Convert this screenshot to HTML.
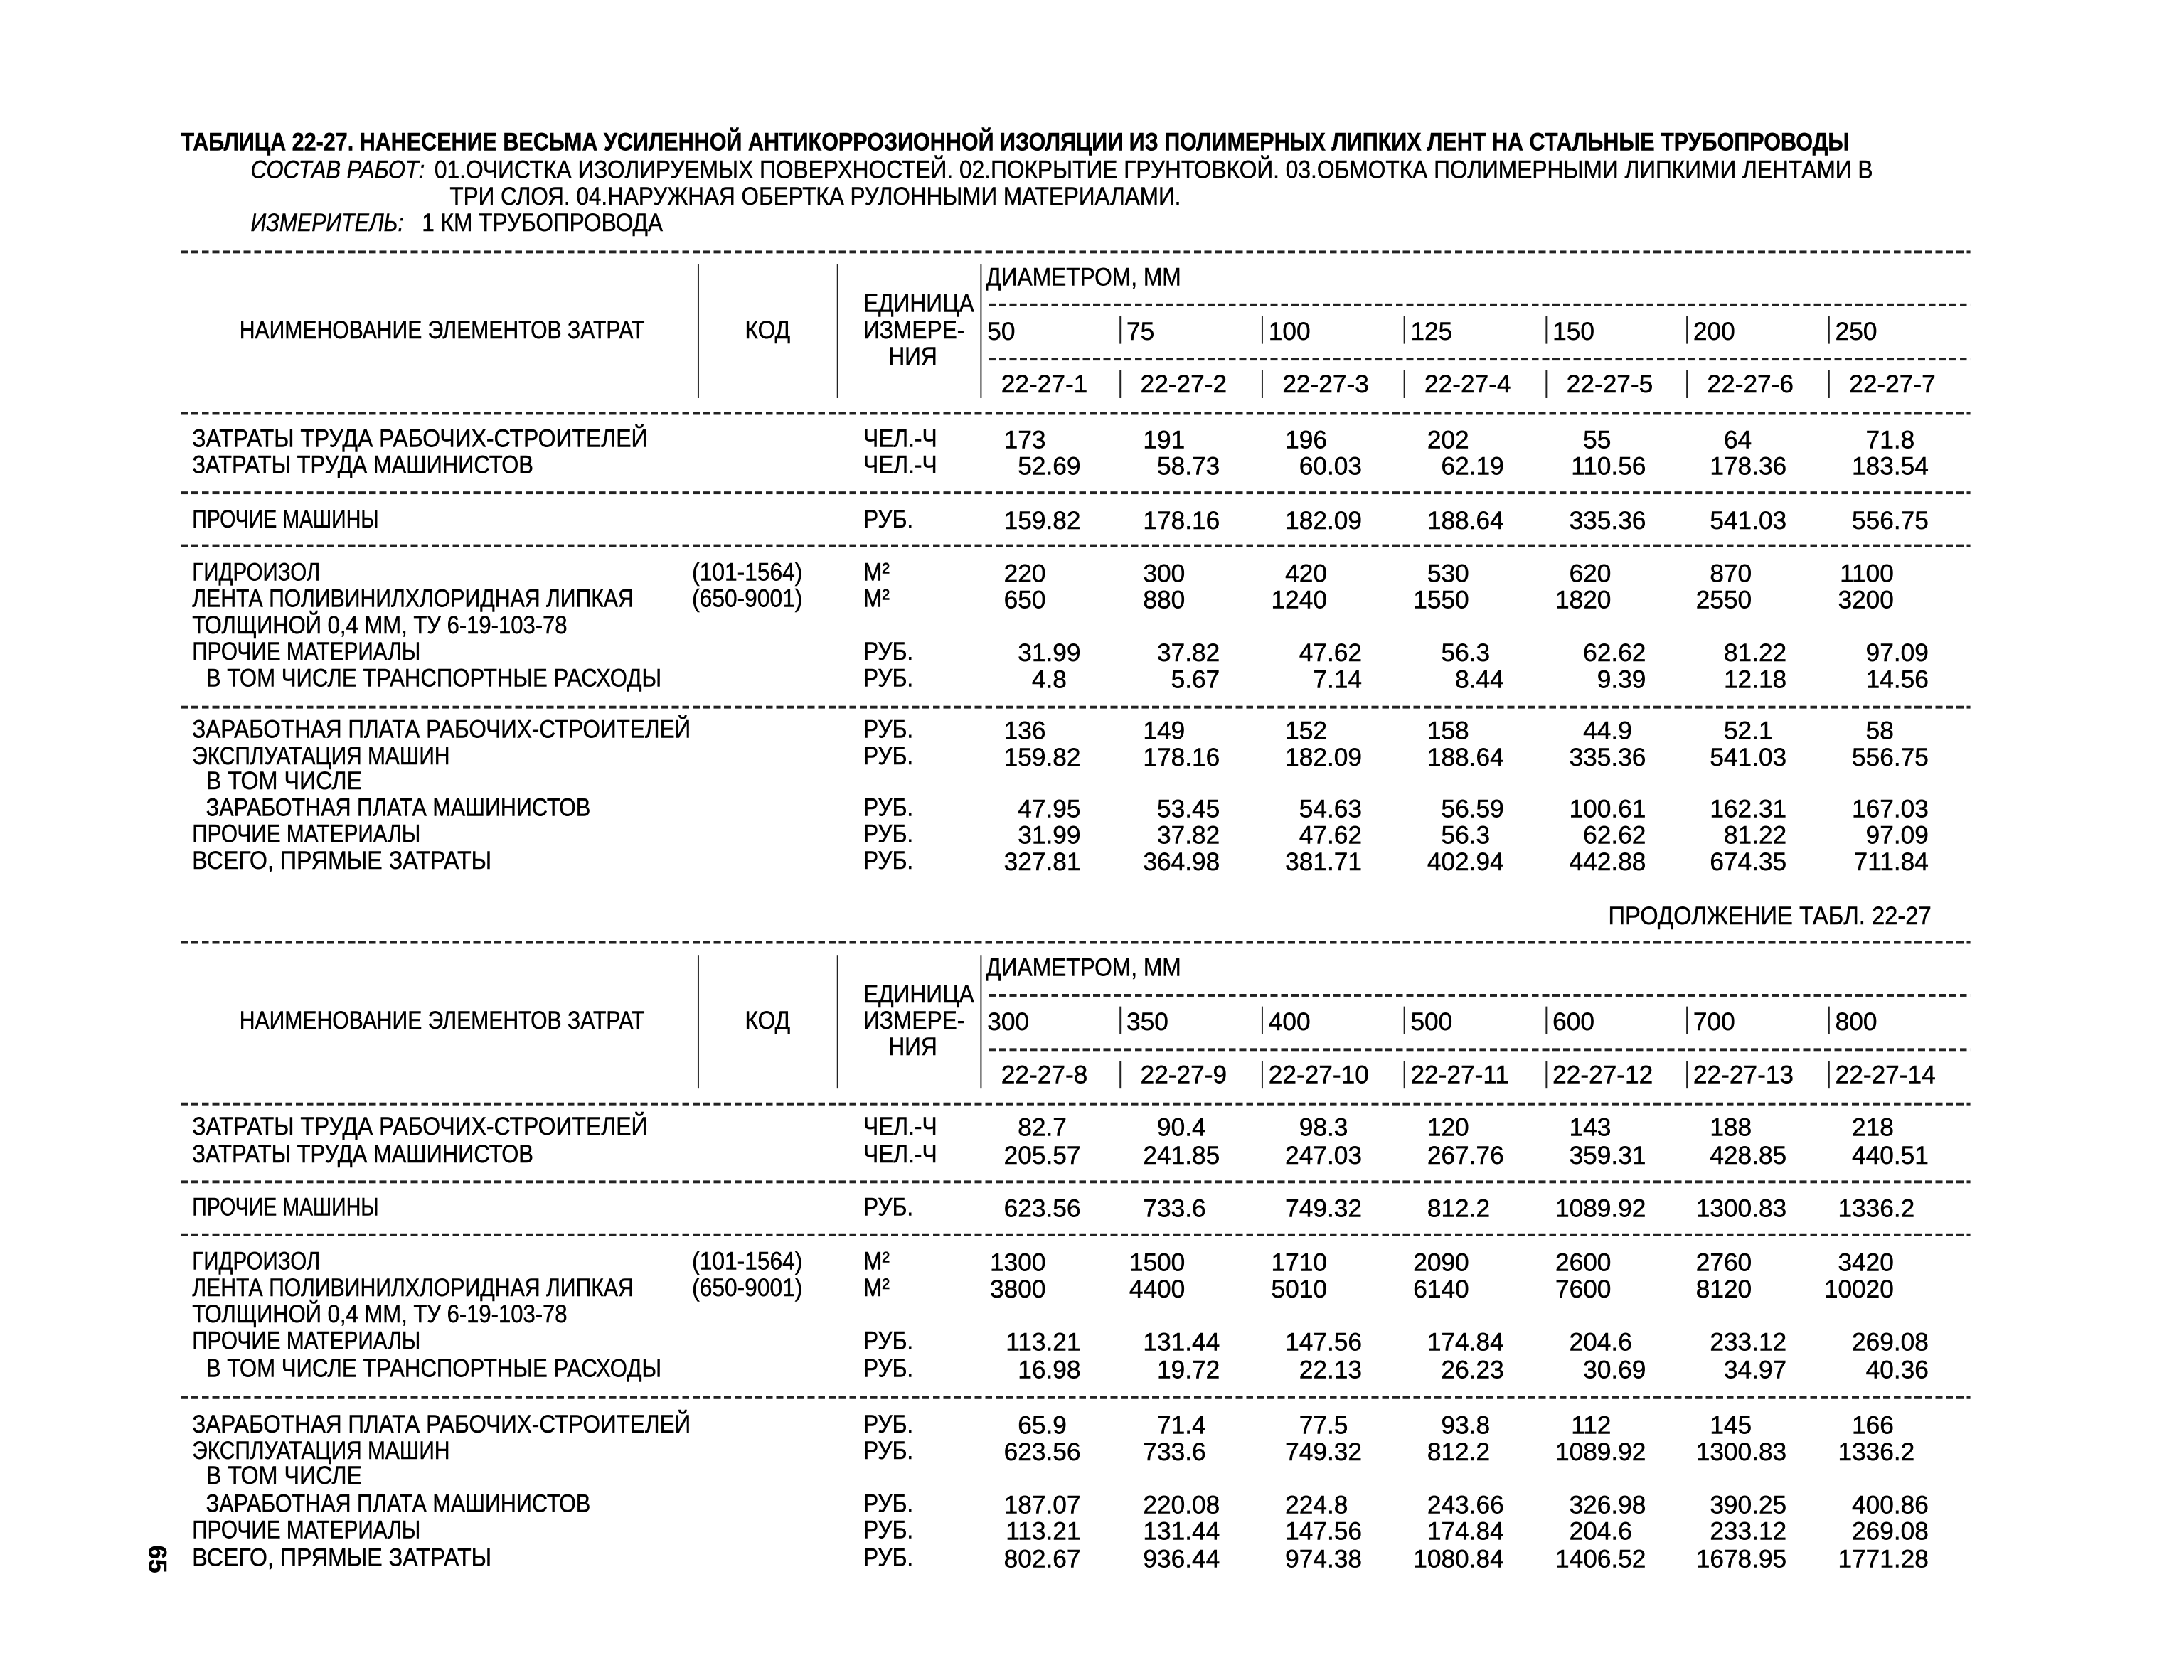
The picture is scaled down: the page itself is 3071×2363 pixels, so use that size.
<!DOCTYPE html>
<html><head><meta charset="utf-8">
<style>
html,body{margin:0;padding:0;background:#fff;}
body{width:3071px;height:2362px;overflow:hidden;position:relative;}
#w{position:absolute;left:0;top:0;width:1570px;height:1207px;transform:scale(1.958);transform-origin:0 0;}
.t{position:absolute;white-space:pre;font-family:"Liberation Sans",sans-serif;font-size:18px;line-height:22px;color:#000;transform-origin:0 50%;-webkit-text-stroke:0.25px #000;}
.d{position:absolute;height:1.6px;background:repeating-linear-gradient(90deg,#222 0 5px,transparent 5px 7.5px);}
.v{position:absolute;width:1.4px;background:#222;}
</style></head><body><div id="w"></div>
<script>
var K=1.958;
var W=document.getElementById('w');
function T(x,y,s,o){o=o||{};var e=document.createElement('div');e.className='t';e.textContent=s;
 e.style.left=x+'px';e.style.top=(y-11)+'px';
 if(o.b)e.style.fontWeight='bold';if(o.i)e.style.fontStyle='italic';
 W.appendChild(e);
 var sc=o.s||0.9;
 if(o.w){sc=o.w/e.getBoundingClientRect().width*K;}
 if(o.r){e.style.left=(x-e.getBoundingClientRect().width/K)+'px';sc=1;}
 if(sc!=1)e.style.transform='scaleX('+sc+')';
 return e;}
function D(x1,x2,y){var e=document.createElement('div');e.className='d';e.style.left=x1+'px';e.style.width=(x2-x1)+'px';e.style.top=y+'px';W.appendChild(e);}
function V(x,y1,y2){var e=document.createElement('div');e.className='v';e.style.left=x+'px';e.style.top=y1+'px';e.style.height=(y2-y1)+'px';W.appendChild(e);}
var base=[703,803,905,1007,1109,1210,1312];
function num(ci,y,v){var s=String(v);var p=s.indexOf('.');var ip=p<0?s:s.slice(0,p);var fp=p<0?'':s.slice(p);
 var px=base[ci]+48;T(px,y,ip,{r:1});if(fp)T(px,y,fp,{s:1});}

T(130,102,'ТАБЛИЦА 22-27. НАНЕСЕНИЕ ВЕСЬМА УСИЛЕННОЙ АНТИКОРРОЗИОННОЙ ИЗОЛЯЦИИ ИЗ ПОЛИМЕРНЫХ ЛИПКИХ ЛЕНТ НА СТАЛЬНЫЕ ТРУБОПРОВОДЫ',{b:1,w:1198});
T(180,122,'СОСТАВ РАБОТ:',{i:1,w:125});
T(312,122,'01.ОЧИСТКА ИЗОЛИРУЕМЫХ ПОВЕРХНОСТЕЙ. 02.ПОКРЫТИЕ ГРУНТОВКОЙ. 03.ОБМОТКА ПОЛИМЕРНЫМИ ЛИПКИМИ ЛЕНТАМИ В',{w:1033});
T(323,141,'ТРИ СЛОЯ. 04.НАРУЖНАЯ ОБЕРТКА РУЛОННЫМИ МАТЕРИАЛАМИ.',{w:525});
T(180,160,'ИЗМЕРИТЕЛЬ:',{i:1,w:110});
T(303,160,'1 КМ ТРУБОПРОВОДА',{w:173});

function header(y0,cols,codes){
 D(130,1415,y0);
 V(501,y0+10,y0+106);V(601,y0+10,y0+106);V(704,y0+10,y0+106);
 T(708,y0+19,'ДИАМЕТРОМ, ММ');
 T(620,y0+38,'ЕДИНИЦА');D(710,1415,y0+38);
 T(172,y0+57,'НАИМЕНОВАНИЕ ЭЛЕМЕНТОВ ЗАТРАТ',{w:291});
 T(535,y0+57,'КОД');T(620,y0+57,'ИЗМЕРЕ-');
 for(var i=0;i<7;i++){if(i>0)V(base[i]+1,y0+47,y0+67);T(base[i]+6,y0+58,cols[i],{s:1});}
 T(638,y0+76,'НИЯ');D(710,1415,y0+77);
 for(var i=0;i<7;i++){if(i>0)V(base[i]+1,y0+86,y0+106);T(base[i]+(codes[i].length>7?6:16),y0+96,codes[i],{s:1});}
 D(130,1415,y0+116);
}
function body(y0,rows,ys){
 var L=[['ЗАТРАТЫ ТРУДА РАБОЧИХ-СТРОИТЕЛЕЙ',138,327,'ЧЕЛ.-Ч'],['ЗАТРАТЫ ТРУДА МАШИНИСТОВ',138,245,'ЧЕЛ.-Ч'],
 ['ПРОЧИЕ МАШИНЫ',138,134,'РУБ.'],['ГИДРОИЗОЛ',138,92,'М²'],['ЛЕНТА ПОЛИВИНИЛХЛОРИДНАЯ ЛИПКАЯ',138,317,'М²'],
 ['ТОЛЩИНОЙ 0,4 ММ, ТУ 6-19-103-78',138,0,''],['ПРОЧИЕ МАТЕРИАЛЫ',138,164,'РУБ.'],['В ТОМ ЧИСЛЕ ТРАНСПОРТНЫЕ РАСХОДЫ',148,327,'РУБ.'],
 ['ЗАРАБОТНАЯ ПЛАТА РАБОЧИХ-СТРОИТЕЛЕЙ',138,358,'РУБ.'],['ЭКСПЛУАТАЦИЯ МАШИН',138,185,'РУБ.'],['В ТОМ ЧИСЛЕ',148,112,''],
 ['ЗАРАБОТНАЯ ПЛАТА МАШИНИСТОВ',148,276,'РУБ.'],['ПРОЧИЕ МАТЕРИАЛЫ',138,164,'РУБ.'],['ВСЕГО, ПРЯМЫЕ ЗАТРАТЫ',138,215,'РУБ.']];
 var vi=0;
 for(var k=0;k<L.length;k++){var y=ys[k];T(L[k][1],y,L[k][0],L[k][2]?{w:L[k][2]}:{s:0.88});if(L[k][3])T(620,y,L[k][3]);
  if(k==3)T(497,y,'(101-1564)');if(k==4)T(497,y,'(650-9001)');
  if(L[k][3]){var r=rows[vi++];for(var c=0;c<7;c++)num(c,y+1,r[c]);}}
}
header(180,['50','75','100','125','150','200','250'],['22-27-1','22-27-2','22-27-3','22-27-4','22-27-5','22-27-6','22-27-7']);
var r3=['159.82','178.16','182.09','188.64','335.36','541.03','556.75'],r6=['31.99','37.82','47.62','56.3','62.62','81.22','97.09'];
body(0,[['173','191','196','202','55','64','71.8'],['52.69','58.73','60.03','62.19','110.56','178.36','183.54'],r3,
 ['220','300','420','530','620','870','1100'],['650','880','1240','1550','1820','2550','3200'],r6,
 ['4.8','5.67','7.14','8.44','9.39','12.18','14.56'],['136','149','152','158','44.9','52.1','58'],r3,
 ['47.95','53.45','54.63','56.59','100.61','162.31','167.03'],r6,['327.81','364.98','381.71','402.94','442.88','674.35','711.84']],
 [315,334,373,411,430,449,468,487,524,543,561,580,599,618]);
D(130,1415,353);D(130,1415,391);D(130,1415,507);
T(1155,658,'ПРОДОЛЖЕНИЕ ТАБЛ. 22-27',{w:232});
header(676,['300','350','400','500','600','700','800'],['22-27-8','22-27-9','22-27-10','22-27-11','22-27-12','22-27-13','22-27-14']);
var s3=['623.56','733.6','749.32','812.2','1089.92','1300.83','1336.2'],s6=['113.21','131.44','147.56','174.84','204.6','233.12','269.08'];
body(0,[['82.7','90.4','98.3','120','143','188','218'],['205.57','241.85','247.03','267.76','359.31','428.85','440.51'],s3,
 ['1300','1500','1710','2090','2600','2760','3420'],['3800','4400','5010','6140','7600','8120','10020'],s6,
 ['16.98','19.72','22.13','26.23','30.69','34.97','40.36'],['65.9','71.4','77.5','93.8','112','145','166'],s3,
 ['187.07','220.08','224.8','243.66','326.98','390.25','400.86'],s6,['802.67','936.44','974.38','1080.84','1406.52','1678.95','1771.28']],
 [809,829,867,906,925,944,963,983,1023,1042,1060,1080,1099,1119]);
D(130,1415,848);D(130,1415,886);D(130,1415,1003);
var p=T(103,1120,'65',{b:1,s:1});p.style.transform='rotate(90deg)';p.style.transformOrigin='50% 50%';
</script>
</body></html>
